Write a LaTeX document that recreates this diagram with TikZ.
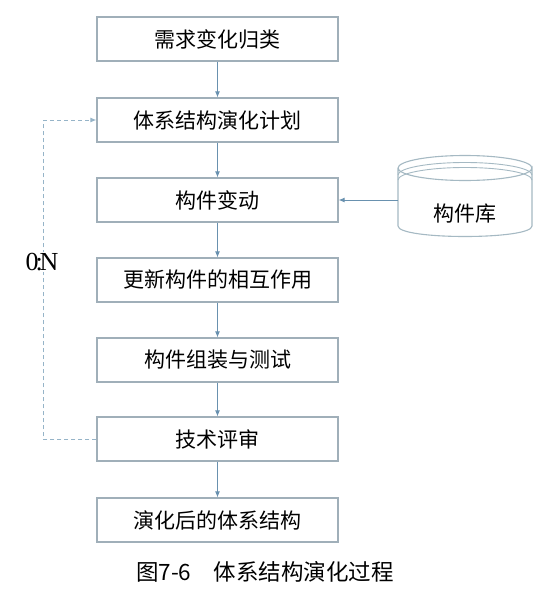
\documentclass[tikz,border=0pt]{standalone}
\usepackage{fontspec}
\setmainfont{Liberation Serif}
\newfontfamily\cjk{Noto Sans CJK SC}
\usetikzlibrary{arrows.meta}
\definecolor{boxline}{RGB}{160,175,185}
\definecolor{arrowc}{RGB}{105,145,175}
\definecolor{dashc}{RGB}{150,180,200}
\definecolor{cylc}{RGB}{165,185,195}
\tikzset{
  stepbox/.style={draw=boxline, line width=1.2pt, minimum width=241pt, minimum height=44pt, inner sep=0pt, font=\cjk\fontsize{21}{21}\selectfont, fill=white},
  flow/.style={draw=arrowc, line width=0.9pt, -{Latex[length=6pt,width=5pt]}},
  loop/.style={draw=dashc, line width=0.9pt, dash pattern=on 4pt off 3pt},
}
\begin{document}
\begin{tikzpicture}[x=1pt,y=-1pt]
\useasboundingbox (0,0) rectangle (538,605);
\node[stepbox] (b1) at (217.5,39) {需求变化归类};
\node[stepbox] (b2) at (217.5,120) {体系结构演化计划};
\node[stepbox] (b3) at (217.5,200) {构件变动};
\node[stepbox] (b4) at (217.5,280) {更新构件的相互作用};
\node[stepbox] (b5) at (217.5,360) {构件组装与测试};
\node[stepbox] (b6) at (217.5,439) {技术评审};
\node[stepbox] (b7) at (217.5,520) {演化后的体系结构};
\draw[flow] (b1) -- (b2);
\draw[flow] (b2) -- (b3);
\draw[flow] (b3) -- (b4);
\draw[flow] (b4) -- (b5);
\draw[flow] (b5) -- (b6);
\draw[flow] (b6) -- (b7);
% cylinder
\draw[draw=cylc, line width=1.1pt, fill=white]
  (398,168) -- (398,226) .. controls (398,240) and (532,240) .. (532,226) -- (532,168)
  arc[start angle=0, end angle=360, x radius=67, y radius=12.5];
\draw[draw=cylc, line width=0.9pt] (398,175) arc[start angle=180, end angle=360, x radius=67, y radius=12.5];
\draw[draw=cylc, line width=0.9pt] (398,180) arc[start angle=180, end angle=360, x radius=67, y radius=12.5];
\node[font=\cjk\fontsize{21}{21}\selectfont, inner sep=0pt] (lib) at (465,214) {构件库};
\coordinate (libw) at (398,200);
\draw[flow] (libw) -- (b3.east);
% loop
\coordinate (c1) at (43,439);
\coordinate (c2) at (43,120);
\draw[loop] (b6.west) -- (c1) -- (c2);
\draw[loop, -{Latex[length=6pt,width=5pt]}] (c2) -- (b2.west);
\node[font=\fontsize{26}{26}\selectfont, fill=white, inner sep=1pt] (lab) at (42,262) {0\kern-0.12em:\kern-0.12em N};
\node[font=\cjk\fontsize{22.5}{22.5}\selectfont, inner sep=0pt] (cap) at (265,572) {图7-6\hspace{1em}体系结构演化过程};
\end{tikzpicture}
\end{document}
